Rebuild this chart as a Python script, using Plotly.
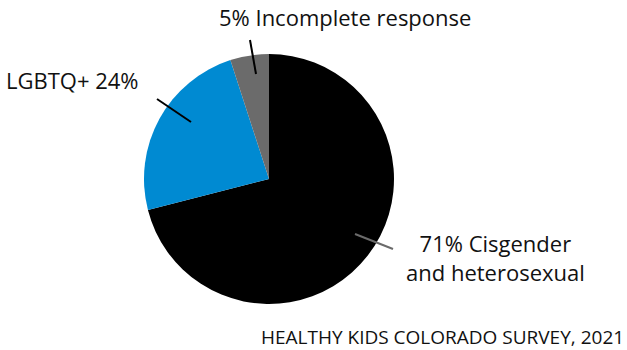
import plotly.graph_objects as go

W, H = 627, 350

categories = ["71% Cisgender and heterosexual", "LGBTQ+ 24%", "5% Incomplete response"]
values = [71, 24, 5]
colors = ["#000000", "#008AD2", "#6B6B6B"]
source = "HEALTHY KIDS COLORADO SURVEY, 2021"

FONT = "Open Sans"

def px(x):
    return x / W

def py(y):
    return 1 - y / H

fig = go.Figure()
fig.add_trace(go.Pie(
    labels=categories,
    values=values,
    marker=dict(colors=colors, line=dict(width=0)),
    sort=False,
    direction="clockwise",
    rotation=0,
    textinfo="none",
    hoverinfo="label",
    showlegend=False,
    domain=dict(x=[px(144), px(394)], y=[py(304), py(54)]),
))

shapes = [
    dict(type="line", xref="paper", yref="paper", x0=px(250), y0=py(40), x1=px(256), y1=py(74),
         line=dict(color="#000000", width=2)),
    dict(type="line", xref="paper", yref="paper", x0=px(157), y0=py(99), x1=px(191), y1=py(122),
         line=dict(color="#000000", width=2)),
    dict(type="line", xref="paper", yref="paper", x0=px(355), y0=py(234), x1=px(393), y1=py(249),
         line=dict(color="#6B6B6B", width=2)),
]

annotations = [
    dict(text=categories[2], x=px(345), y=py(17), xref="paper", yref="paper",
         xanchor="center", yanchor="middle", showarrow=False,
         font=dict(family=FONT, size=22, color="#111111")),
    dict(text=categories[1], x=px(4), y=py(80), xref="paper", yref="paper",
         xanchor="left", yanchor="middle", showarrow=False,
         font=dict(family=FONT, size=22, color="#111111")),
    dict(text="71% Cisgender<br>and heterosexual", x=px(496), y=py(257), xref="paper", yref="paper",
         xanchor="center", yanchor="middle", showarrow=False, align="center",
         font=dict(family=FONT, size=22, color="#111111")),
    dict(text=source, x=px(626), y=py(337), xref="paper", yref="paper",
         xanchor="right", yanchor="middle", showarrow=False,
         font=dict(family=FONT, size=19, color="#111111")),
]

fig.update_layout(
    width=W, height=H,
    margin=dict(l=0, r=0, t=0, b=0),
    paper_bgcolor="white", plot_bgcolor="white",
    shapes=shapes, annotations=annotations,
)

fig.write_html("out.html", config={"displayModeBar": False},
               post_script="document.body.style.margin='0';document.body.style.overflow='hidden';")
